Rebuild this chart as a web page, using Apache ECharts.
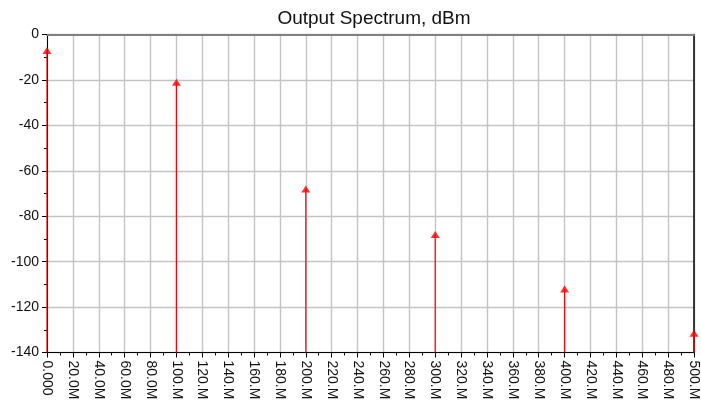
<!DOCTYPE html>
<html>
<head>
<meta charset="utf-8">
<script src="https://cdn.jsdelivr.net/npm/echarts@6/dist/echarts.min.js"></script>
<style>
  html, body { margin: 0; padding: 0; background: #ffffff; }
  #chart { width: 701px; height: 403px; }
</style>
</head>
<body>
<div id="chart"></div>
<script>
// Spectral lines: frequency (Hz) and power (dBm)
const freqs = [0, 100e6, 200e6, 300e6, 400e6, 500e6];
const powerDbm = [-7, -21, -68, -88, -112, -131.5];

// Frequency axis tick labels, one per 20 MHz step
const freqTickLabels = [
  '0.000', '20.0M', '40.0M', '60.0M', '80.0M',
  '100.M', '120.M', '140.M', '160.M', '180.M',
  '200.M', '220.M', '240.M', '260.M', '280.M',
  '300.M', '320.M', '340.M', '360.M', '380.M',
  '400.M', '420.M', '440.M', '460.M', '480.M', '500.M'
];
const freqStep = 20e6;
const freqMin = 0, freqMax = 500e6;
const powerMin = -140, powerMax = 0, powerStep = 20;

const points = freqs.map((f, i) => [f, powerDbm[i]]);

const font = 'Liberation Sans, Arial, sans-serif';
const chart = echarts.init(document.getElementById('chart'), null, { renderer: 'canvas' });

chart.setOption({
  animation: false,
  backgroundColor: '#ffffff',
  title: {
    text: 'Output Spectrum, dBm',
    left: 369, top: 4, textAlign: 'center',
    textStyle: { fontFamily: font, fontSize: 19, fontWeight: 'normal', color: '#111' }
  },
  grid: { left: 47, right: 6.5, top: 34.5, bottom: 50.5, containLabel: false },
  xAxis: [{
    type: 'value', min: freqMin, max: freqMax, interval: freqStep,
    axisLine: { show: true, onZero: false, lineStyle: { color: '#000', width: 1 } },
    axisTick: { show: true, length: 5, lineStyle: { color: '#000' } },
    minorTick: { show: true, splitNumber: 2, length: 3, lineStyle: { color: '#000' } },
    splitLine: { show: true, lineStyle: { color: '#c4c4c4', width: 1.4 } },
    axisLabel: {
      rotate: -90, margin: 8, fontFamily: font, fontSize: 14, color: '#111',
      formatter: v => freqTickLabels[Math.round(v / freqStep)]
    }
  }, {
    type: 'value', position: 'top', min: freqMin, max: freqMax, interval: freqStep,
    axisLine: { show: true, onZero: false, lineStyle: { color: '#808080', width: 2 } },
    axisTick: { show: false }, axisLabel: { show: false }, splitLine: { show: false }
  }],
  yAxis: [{
    type: 'value', min: powerMin, max: powerMax, interval: powerStep,
    axisLine: { show: true, onZero: false, lineStyle: { color: '#000', width: 1 } },
    axisTick: { show: true, length: 5, lineStyle: { color: '#000' } },
    minorTick: { show: true, splitNumber: 2, length: 3, lineStyle: { color: '#000' } },
    splitLine: { show: true, lineStyle: { color: '#c4c4c4', width: 1.4 } },
    axisLabel: { margin: 8, fontFamily: font, fontSize: 14, color: '#111' }
  }, {
    type: 'value', position: 'right', min: powerMin, max: powerMax, interval: powerStep,
    axisLine: { show: true, onZero: false, lineStyle: { color: '#000', width: 1.5 } },
    axisTick: { show: false }, axisLabel: { show: false }, splitLine: { show: false }
  }],
  series: [{
    // vertical stems from the floor of the plot up to each line's level
    type: 'custom',
    data: points,
    clip: false,
    renderItem: (params, api) => {
      const top = api.coord([api.value(0), api.value(1)]);
      const base = api.coord([api.value(0), powerMin]);
      return {
        type: 'line',
        shape: { x1: top[0], y1: top[1], x2: base[0], y2: base[1] },
        style: { stroke: '#ff0000', lineWidth: 1.2 }
      };
    },
    z: 3
  }, {
    type: 'scatter',
    data: points,
    symbol: 'triangle',
    symbolSize: [9, 7],
    clip: false,
    itemStyle: { color: '#ff0000' },
    z: 4
  }]
});
</script>
</body>
</html>
